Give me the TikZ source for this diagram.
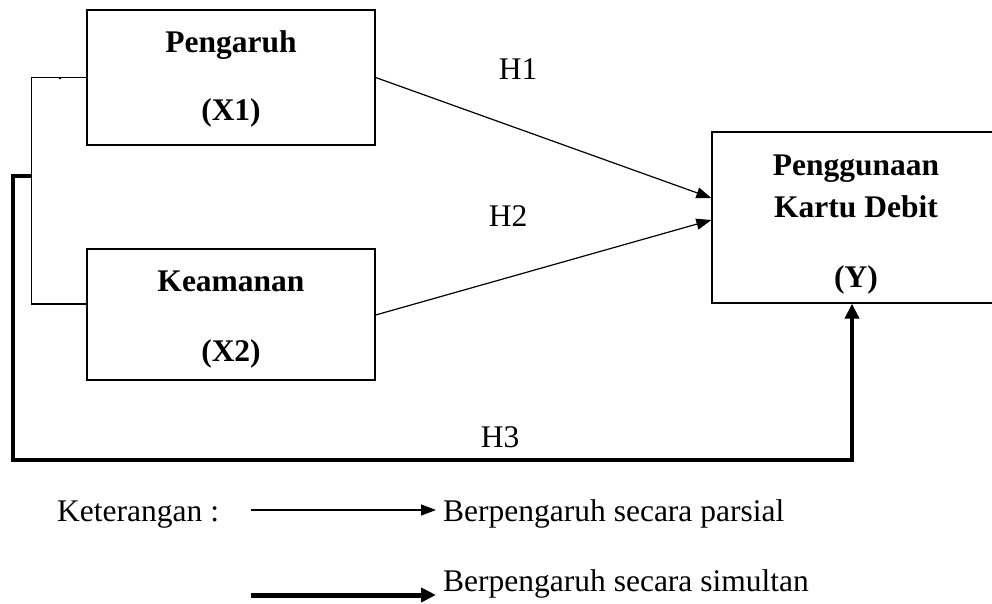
\documentclass[tikz,border=0pt]{standalone}
\usepackage{fontspec}
\setmainfont{Liberation Serif}
\usetikzlibrary{arrows.meta}

\begin{document}
\begin{tikzpicture}[x=1pt, y=-1pt, line join=miter,
    varbox/.style={draw, line width=1.3pt, minimum width=288pt, inner sep=0pt,
      align=center, font=\fontsize{31.5}{68}\selectfont\bfseries},
    lbl/.style={font=\fontsize{31.5}{36}\selectfont, inner sep=0pt},
    thinline/.style={line width=1.2pt},
    thickline/.style={line width=4.5pt},
    thintip/.style={-{Triangle[length=15pt,width=11pt]}},
    thicktip/.style={-{Triangle[length=15pt,width=14pt]}}]
  \useasboundingbox (0,0) rectangle (992,604);
  \clip (0,0) rectangle (992,604);
  % variabel
  \node[varbox, minimum height=135pt] (x1) at (231,77.5)
    {\rule{0pt}{24pt}Pengaruh\\(X1)};
  \node[varbox, minimum height=131pt, font=\fontsize{31.5}{70}\selectfont\bfseries]
    (x2) at (231,314.5) {\rule{0pt}{31pt}Keamanan\\(X2)};
  \node[varbox, minimum height=171pt, font=\fontsize{31.5}{42}\selectfont\bfseries]
    (y) at (856,217.5) {\rule{0pt}{35pt}Penggunaan\\Kartu Debit\\[28pt](Y)};
  \node[lbl, font=\fontsize{20}{24}\selectfont, anchor=base] (dot) at (60,80) {.};
  % parsial
  \draw[thinline] (x1.west) -- ++(-55,0) |- ([yshift=10.5pt]x2.west);
  \draw[thinline, thintip] (x1.east) -- ([yshift=19.5pt]y.west);
  \draw[thinline, thintip] ([yshift=-0.5pt]x2.east) -- ([yshift=-2.5pt]y.west);
  \node[lbl] (h1) at (518,69) {H1};
  \node[lbl] (h2) at (508,216) {H2};
  % simultan
  \coordinate (jn) at (32,176);
  \draw[thickline, thicktip] (jn) -| (13,460) -| ([xshift=-4pt]y.south);
  \node[lbl] (h3) at (500,437) {H3};
  % keterangan
  \node[lbl, anchor=base west] (ket) at (57,521) {Keterangan :};
  \node[lbl, anchor=base west] (parsial) at (443,521) {Berpengaruh secara parsial};
  \node[lbl, anchor=base west] (simultan) at (443,591) {Berpengaruh secara simultan};
  \coordinate (la) at (251,510);
  \coordinate (lb) at (251,595);
  \draw[thinline, thintip, shorten >=7pt] (la) -- (la -| parsial.west);
  \draw[line width=5pt, thicktip, shorten >=7pt] (lb) -- (lb -| simultan.west);
\end{tikzpicture}
\end{document}
